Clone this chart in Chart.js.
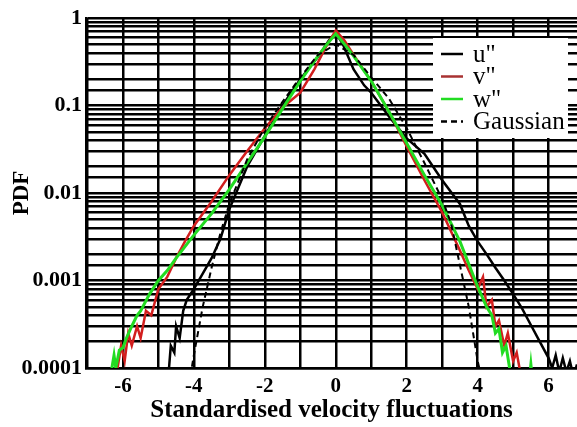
<!DOCTYPE html>
<html>
<head>
<meta charset="utf-8">
<script src="https://cdn.jsdelivr.net/npm/chart.js@4"></script>
<style>
  html, body { margin: 0; padding: 0; background: #fff; }
  #wrap { width: 577px; height: 427px; }
</style>
</head>
<body>
<div id="wrap"><canvas id="myChart" width="577" height="427"></canvas></div>
<script>
// values
const uX = [-4.8, -4.7, -4.65, -4.55, -4.5, -4.4, -4.3, -4.2, -4, -3.75, -3.5, -3.25, -3, -2.5, -2, -1.5, -1, -0.5, -0.2, 0, 0.2, 0.5, 0.8, 1, 1.5, 2, 2.5, 3, 3.5, 3.75, 4, 4.25, 4.5, 4.75, 5, 5.25, 5.5, 5.75, 6, 6.1, 6.2, 6.3, 6.4, 6.5, 6.6, 6.7, 6.8];
const uY = [0.00009, 0.0001, 0.00018, 0.00015, 0.0003, 0.00022, 0.00045, 0.0006, 0.0008, 0.0012, 0.0018, 0.003, 0.0065, 0.02, 0.045, 0.1, 0.2, 0.36, 0.55, 0.68, 0.5, 0.26, 0.17, 0.14, 0.075, 0.042, 0.028, 0.014, 0.0075, 0.0042, 0.0028, 0.002, 0.0014, 0.001, 0.0007, 0.00048, 0.00031, 0.0002, 0.00013, 0.0001, 0.00014, 0.00009, 0.00013, 0.00009, 0.00012, 0.00008, 0.00011];

const vX = [-6.15, -6.05, -5.95, -5.85, -5.75, -5.6, -5.5, -5.35, -5.2, -5, -4.75, -4.5, -4.25, -4, -3.5, -3, -2.5, -2, -1.5, -1, -0.6, -0.3, 0, 0.25, 0.5, 1, 1.5, 2, 2.5, 3, 3.5, 3.75, 4, 4.15, 4.25, 4.4, 4.5, 4.6, 4.75, 4.85, 5, 5.1, 5.2];
const vY = [0.0001, 0.00018, 0.00012, 0.00025, 0.00018, 0.0003, 0.00022, 0.00045, 0.0004, 0.0008, 0.0011, 0.0018, 0.0028, 0.0042, 0.008, 0.016, 0.03, 0.055, 0.095, 0.14, 0.26, 0.45, 0.72, 0.55, 0.38, 0.19, 0.085, 0.034, 0.014, 0.006, 0.0022, 0.0013, 0.0008, 0.0011, 0.0005, 0.0006, 0.0003, 0.00035, 0.00018, 0.00025, 0.00012, 0.00015, 0.00009];

const wX = [-6.35, -6.25, -6.2, -6.1, -6, -5.9, -5.75, -5.6, -5.5, -5.25, -5, -4.75, -4.5, -4, -3.5, -3, -2.5, -2, -1.5, -1, -0.5, -0.25, 0, 0.25, 0.5, 1, 1.5, 2, 2.5, 3, 3.5, 4, 4.25, 4.4, 4.5, 4.6, 4.7, 4.8, 4.9, 5, 5.45, 5.5, 5.55];
const wY = [0.00008, 0.00014, 0.0001, 0.00016, 0.00017, 0.00022, 0.0003, 0.0004, 0.00045, 0.0007, 0.001, 0.0013, 0.0018, 0.0033, 0.0058, 0.011, 0.022, 0.044, 0.092, 0.19, 0.37, 0.5, 0.66, 0.5, 0.37, 0.19, 0.085, 0.037, 0.016, 0.0072, 0.0028, 0.00085, 0.0005, 0.0004, 0.00025, 0.00028, 0.00015, 0.00018, 0.0001, 0.00007, 0.00007, 0.00011, 0.00007];

const gX = [-4.1, -4, -3.75, -3.5, -3.25, -3, -2.5, -2, -1.5, -1, -0.5, 0, 0.5, 1, 1.5, 2, 2.5, 3, 3.25, 3.5, 3.75, 4, 4.1];
const gY = [0.00008, 0.00014, 0.0005, 0.0014, 0.0035, 0.0075, 0.024, 0.056, 0.11, 0.21, 0.38, 0.5, 0.38, 0.21, 0.12, 0.055, 0.022, 0.0085, 0.0045, 0.0015, 0.0005, 0.00012, 0.00008];

const seriesNames = ['u"', 'v"', 'w"', 'Gaussian'];
const xTickValues = [-7, -6, -5, -4, -3, -2, -1, 0, 1, 2, 3, 4, 5, 6];
const xTickLabels = { '-6': '-6', '-4': '-4', '-2': '-2', '0': '0', '2': '2', '4': '4', '6': '6' };
const yTickLabels = { '-4': '0.0001', '-3': '0.001', '-2': '0.01', '-1': '0.1', '0': '1' };

const pts = (xs, ys) => xs.map((x, i) => ({ x: x, y: ys[i] }));

const serif = "'Liberation Serif', 'DejaVu Serif', serif";
Chart.defaults.color = '#000';

// legend drawn inside the plot on a white box
const insideLegend = {
  id: 'insideLegend',
  afterDraw(chart) {
    const ctx = chart.ctx;
    const a = chart.chartArea;
    const bx = a.right - 144, by = a.top + 20;
    ctx.save();
    ctx.fillStyle = '#fff';
    ctx.fillRect(bx, by, 135, 100);
    ctx.font = '25px ' + serif;
    ctx.textBaseline = 'middle';
    chart.data.datasets.forEach((ds, i) => {
      const y = by + 16 + i * 22.5;
      ctx.beginPath();
      ctx.strokeStyle = ds.legendColor || ds.borderColor;
      ctx.lineWidth = 2.5;
      ctx.setLineDash(ds.borderDash || []);
      ctx.moveTo(bx + 8, y);
      ctx.lineTo(bx + 30, y);
      ctx.stroke();
      ctx.setLineDash([]);
      ctx.fillStyle = '#000';
      ctx.fillText(ds.label, bx + 40, y + 1);
    });
    ctx.restore();
  }
};

const data = {
  datasets: [
    { label: seriesNames[0], data: pts(uX, uY), borderColor: '#000', borderWidth: 2.5, order: 3 },
    { label: seriesNames[1], data: pts(vX, vY), borderColor: '#d21e1e', legendColor: '#a83232', borderWidth: 2.5, order: 2 },
    { label: seriesNames[2], data: pts(wX, wY), borderColor: '#22dc22', borderWidth: 3, order: 1 },
    { label: seriesNames[3], data: pts(gX, gY), borderColor: '#000', borderWidth: 2, borderDash: [6, 4], order: 0 }
  ]
};

const config = {
  type: 'line',
  data: data,
  options: {
    responsive: false,
    animation: false,
    layout: { padding: { top: 18, right: 0, left: 0, bottom: 0 } },
    elements: { point: { radius: 0 }, line: { tension: 0, fill: false } },
    plugins: { legend: { display: false }, tooltip: { enabled: false } },
    scales: {
      x: {
        type: 'linear',
        min: -7.04,
        max: 6.8,
        afterFit: (s) => { s.height = 59; },
        afterBuildTicks: (s) => { s.ticks = xTickValues.map((v) => ({ value: v })); },
        grid: { color: '#000', lineWidth: 2.5, drawTicks: false },
        border: { color: '#000', width: 2.5 },
        ticks: {
          autoSkip: false,
          maxRotation: 0,
          padding: 6,
          font: { family: serif, size: 21, weight: 'bold' },
          callback: (v) => xTickLabels[String(v)] || ''
        },
        title: {
          display: true,
          text: 'Standardised velocity fluctuations',
          font: { family: serif, size: 25, weight: 'bold' },
          padding: { top: 2, bottom: 1 }
        }
      },
      y: {
        type: 'logarithmic',
        min: 0.0001,
        max: 1,
        afterFit: (s) => { s.width = 86; },
        grid: { color: '#000', lineWidth: 2.5, drawTicks: false },
        border: { color: '#000', width: 2.5 },
        ticks: {
          autoSkip: false,
          padding: 4,
          font: { family: serif, size: 22, weight: 'bold' },
          callback: (v) => {
            const e = Math.log10(v);
            return Math.abs(e - Math.round(e)) < 1e-9 ? yTickLabels[String(Math.round(e))] : '';
          }
        },
        title: {
          display: true,
          text: 'PDF',
          font: { family: serif, size: 23, weight: 'bold' },
          padding: { top: 8, bottom: 0 }
        }
      }
    }
  },
  plugins: [insideLegend]
};

const myChart = new Chart(document.getElementById('myChart'), config);
</script>
</body>
</html>
